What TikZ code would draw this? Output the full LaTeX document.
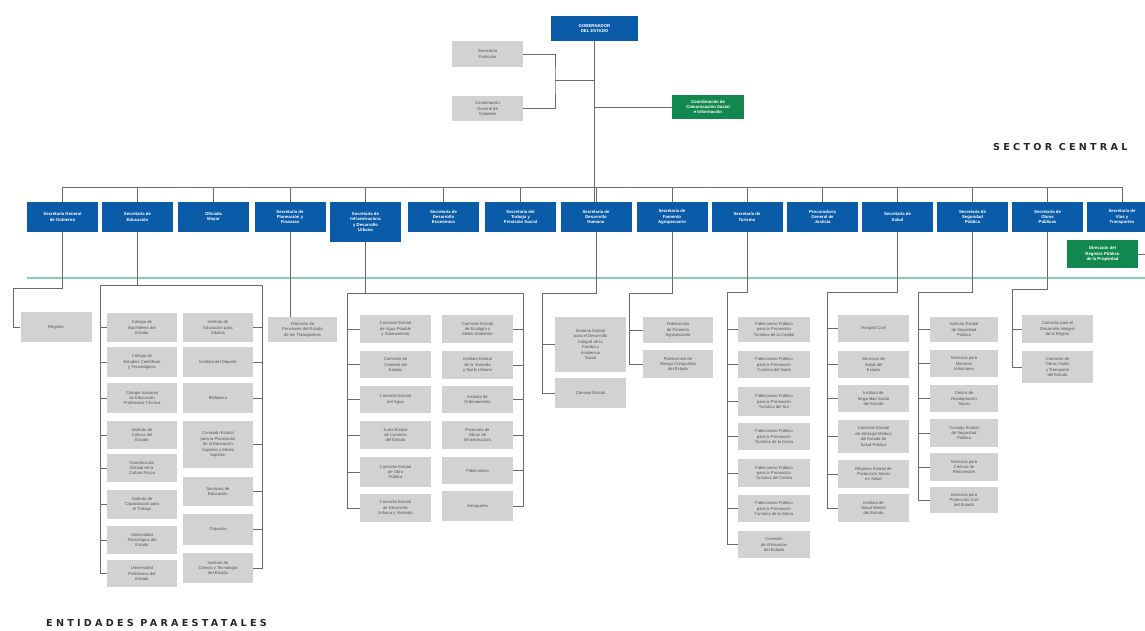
\documentclass[tikz,border=0pt]{standalone}
\usepackage{fontspec}
\setmainfont{Liberation Sans}
\newfontfamily\titlefont[LetterSpace=34]{DejaVu Sans}
\definecolor{bblue}{HTML}{0B5CA8}
\definecolor{ggreen}{HTML}{12884F}
\definecolor{gfill}{HTML}{D2D2D2}
\definecolor{gtext}{HTML}{555555}
\definecolor{lgray}{HTML}{6A6A6A}
\definecolor{teal}{HTML}{86CDBB}
\tikzset{
  box/.style={inner sep=0pt, align=center, font=\fontsize{4.2}{5.4}\selectfont},
  bluebox/.style={box, fill=bblue, text=white, font=\bfseries\fontsize{4.3}{5.4}\selectfont, minimum width=71pt, minimum height=30pt},
  greenbox/.style={box, fill=ggreen, text=white, font=\bfseries\fontsize{4.3}{5.4}\selectfont},
  greybox/.style={box, fill=gfill, text=gtext},
  sz/.style 2 args={minimum width=#1, minimum height=#2},
  ln/.style={draw=lgray, line width=0.7pt},
  title/.style={font=\titlefont\bfseries\fontsize{9.6}{11}\selectfont, text=black!85, inner sep=0pt}
}
\begin{document}
\begin{tikzpicture}[x=1pt,y=-1pt]
\useasboundingbox (0,0) rectangle (1145,631);
\fill[white] (0,0) rectangle (1145,631);

% ---------- top ----------
\node[bluebox, sz={87pt}{25pt}] (gov) at (594.5,28.5) {GOBERNADOR\\DEL ESTADO};
\node[greybox, sz={71pt}{26pt}] (sp) at (487.5,54) {Secretaría\\Particular};
\node[greybox, sz={71pt}{25pt}] (cg) at (487.5,108.5) {Coordinación\\General de\\Gabinete};
\node[greenbox, sz={72pt}{24pt}] (gt) at (708,107) {Coordinación de\\Comunicación Social\\e Información};
\coordinate (kg) at (555,80);
\draw[ln] (sp.east) -| (kg) |- (cg.east);
\draw[ln] (kg) -- (kg -| gov.south);
\draw[ln] (gt.west) -- (gt.west -| gov.south);

\node[title, anchor=west] (sc) at (993,147) {SECTOR CENTRAL};
\node[title, anchor=west] (ep) at (46,623) {ENTIDADES PARAESTATALES};

% ---------- teal line ----------
\coordinate (t1) at (27,278);
\coordinate (t2) at (1145,278);
\draw[teal, line width=2.2pt] (t1) -- (t2);

% ---------- blue row ----------
\node[bluebox] (b1) at (62.5,217) {Secretaría General\\de Gobierno};
\node[bluebox] (b2) at (137.5,217) {Secretaría de\\Educación};
\node[bluebox] (b3) at (213.5,217) {Oficialía\\Mayor};
\node[bluebox] (b4) at (290,217) {Secretaría de\\Planeación y\\Finanzas};
\node[bluebox, sz={71pt}{40pt}] (b5) at (365.5,222) {Secretaría de\\Infraestructura\\y Desarrollo\\Urbano};
\node[bluebox] (b6) at (443.5,217) {Secretaría de\\Desarrollo\\Económico};
\node[bluebox] (b7) at (520.5,217) {Secretaría del\\Trabajo y\\Previsión Social};
\node[bluebox] (b8) at (596,217) {Secretaría de\\Desarrollo\\Humano};
\node[bluebox] (b9) at (672,217) {Secretaría de\\Fomento\\Agropecuario};
\node[bluebox] (b10) at (747,217) {Secretaría de\\Turismo};
\node[bluebox] (b11) at (822.5,217) {Procuraduría\\General de\\Justicia};
\node[bluebox] (b12) at (897.5,217) {Secretaría de\\Salud};
\node[bluebox] (b13) at (972.5,217) {Secretaría de\\Seguridad\\Pública};
\node[bluebox] (b14) at (1047.5,217) {Secretaría de\\Obras\\Públicas};
\node[bluebox] (b15) at (1122,217) {Secretaría de\\Vías y\\Transportes};
\node[greenbox, sz={71pt}{28pt}] (g15) at (1102.5,254) {Dirección del\\Registro Público\\de la Propiedad};
\coordinate (g15e) at (1145,254);
\draw[ln] (g15.east) -- (g15e);

% bus
\coordinate (bus) at (0,187);
\draw[ln] (b1.north |- bus) -- (b15.north |- bus);
\draw[ln] (gov.south) -- (gov.south |- b8.north);
\foreach \i in {1,...,15} \draw[ln] (b\i.north) -- (b\i.north |- bus);

% ---------- box 1 ----------
\node[greybox, sz={71pt}{30pt}] (e1) at (56,327) {Registro};
\coordinate (k1a) at (62.5,288);
\coordinate (k1b) at (13,288);
\draw[ln] (b1.south) -- (k1a) -- (k1b) |- (e1.west);

% ---------- box 2 ----------
\node[greybox, sz={70pt}{29pt}] (e2l1) at (142,327.5) {Colegio de\\Bachilleres del\\Estado};
\node[greybox, sz={70pt}{30pt}] (e2l2) at (142,362) {Colegio de\\Estudios Científicos\\y Tecnológicos};
\node[greybox, sz={70pt}{30pt}] (e2l3) at (142,398) {Colegio Nacional\\de Educación\\Profesional Técnica};
\node[greybox, sz={70pt}{28pt}] (e2l4) at (142,435) {Instituto de\\Cultura del\\Estado};
\node[greybox, sz={70pt}{28pt}] (e2l5) at (142,468) {Coordinación\\Estatal de la\\Cultura Física};
\node[greybox, sz={70pt}{29pt}] (e2l6) at (142,504.5) {Instituto de\\Capacitación para\\el Trabajo};
\node[greybox, sz={70pt}{28pt}] (e2l7) at (142,540) {Universidad\\Tecnológica del\\Estado};
\node[greybox, sz={70pt}{27pt}] (e2l8) at (142,573.5) {Universidad\\Politécnica del\\Estado};
\node[greybox, sz={70pt}{29pt}] (e2r1) at (218,327.5) {Instituto de\\Educación para\\Adultos};
\node[greybox, sz={70pt}{30pt}] (e2r2) at (218,362) {Instituto del Deporte};
\node[greybox, sz={70pt}{30pt}] (e2r3) at (218,398) {Biblioteca};
\node[greybox, sz={70pt}{47pt}] (e2r4) at (218,444.5) {Comisión Estatal\\para la Planeación\\de la Educación\\Superior y Media\\Superior};
\node[greybox, sz={70pt}{29pt}] (e2r5) at (218,491.5) {Servicios de\\Educación};
\node[greybox, sz={70pt}{31pt}] (e2r6) at (218,529.5) {Orquesta};
\node[greybox, sz={70pt}{30pt}] (e2r7) at (218,568) {Instituto de\\Ciencia y Tecnología\\del Estado};
\coordinate (k2l) at (100,285);
\coordinate (k2r) at (262,285);
\draw[ln] (b2.south) -- (b2.south |- k2l);
\draw[ln] (e2l8.west) -| (k2l) -- (k2r) |- (e2r7.east);
\foreach \i in {1,...,7} \draw[ln] (e2l\i.west) -- (e2l\i.west -| k2l);
\foreach \i in {1,...,6} \draw[ln] (e2r\i.east) -- (e2r\i.east -| k2r);

% ---------- box 4 ----------
\node[greybox, sz={69pt}{25pt}] (e4) at (302.5,329.5) {Dirección de\\Pensiones del Estado\\de los Trabajadores};
\draw[ln] (b4.south) -- (b4.south |- e4.north);

% ---------- box 5 ----------
\node[greybox, sz={71pt}{28pt}] (e5l1) at (395.5,329) {Comisión Estatal\\de Agua Potable\\y Saneamiento};
\node[greybox, sz={71pt}{27pt}] (e5l2) at (395.5,364.5) {Comisión de\\Vivienda del\\Estado};
\node[greybox, sz={71pt}{27pt}] (e5l3) at (395.5,399.5) {Comisión Estatal\\del Agua};
\node[greybox, sz={71pt}{28pt}] (e5l4) at (395.5,435) {Junta Estatal\\de Caminos\\del Estado};
\node[greybox, sz={71pt}{30pt}] (e5l5) at (395.5,472) {Comisión Estatal\\de Obra\\Pública};
\node[greybox, sz={71pt}{28pt}] (e5l6) at (395.5,508) {Comisión Estatal\\de Desarrollo\\Urbano y Vivienda};
\node[greybox, sz={71pt}{28pt}] (e5r1) at (477.5,329) {Comisión Estatal\\de Ecología y\\Medio Ambiente};
\node[greybox, sz={71pt}{28pt}] (e5r2) at (477.5,365) {Instituto Estatal\\de la Vivienda\\y Suelo Urbano};
\node[greybox, sz={71pt}{27pt}] (e5r3) at (477.5,399.5) {Instituto de\\Ordenamiento};
\node[greybox, sz={71pt}{28pt}] (e5r4) at (477.5,435) {Patronato de\\Obras de\\Infraestructura};
\node[greybox, sz={71pt}{27pt}] (e5r5) at (477.5,470.5) {Fideicomiso};
\node[greybox, sz={71pt}{30pt}] (e5r6) at (477.5,506) {Aeropuerto};
\coordinate (k5l) at (347,293);
\coordinate (k5r) at (523,293);
\draw[ln] (b5.south) -- (b5.south |- k5l);
\draw[ln] (e5l6.west) -| (k5l) -- (k5r) |- (e5r6.east);
\foreach \i in {1,...,5} \draw[ln] (e5l\i.west) -- (e5l\i.west -| k5l);
\foreach \i in {1,...,5} \draw[ln] (e5r\i.east) -- (e5r\i.east -| k5r);

% ---------- box 8 ----------
\node[greybox, sz={71pt}{55pt}] (e8a) at (590.5,344.5) {Sistema Estatal\\para el Desarrollo\\Integral de la\\Familia y\\Asistencia\\Social};
\node[greybox, sz={71pt}{30pt}] (e8b) at (590.5,393) {Consejo Estatal};
\coordinate (k8) at (542,293);
\draw[ln] (b8.south) -- (b8.south |- k8) -- (k8) |- (e8b.west);
\draw[ln] (e8a.west) -- (e8a.west -| k8);

% ---------- box 9 ----------
\node[greybox, sz={70pt}{26pt}] (e9a) at (678,330) {Fideicomiso\\de Fomento\\Agropecuario};
\node[greybox, sz={70pt}{28pt}] (e9b) at (678,364) {Fideicomiso de\\Riesgo Compartido\\del Estado};
\coordinate (k9) at (629,293);
\draw[ln] (b9.south) -- (b9.south |- k9) -- (k9) |- (e9b.west);
\draw[ln] (e9a.west) -- (e9a.west -| k9);

% ---------- box 10 ----------
\node[greybox, sz={72pt}{25pt}] (e10a) at (774,329.5) {Fideicomiso Público\\para la Promoción\\Turística de la Capital};
\node[greybox, sz={72pt}{27pt}] (e10b) at (774,364.5) {Fideicomiso Público\\para la Promoción\\Turística del Norte};
\node[greybox, sz={72pt}{29pt}] (e10c) at (774,401.5) {Fideicomiso Público\\para la Promoción\\Turística del Sur};
\node[greybox, sz={72pt}{27pt}] (e10d) at (774,436.5) {Fideicomiso Público\\para la Promoción\\Turística de la Costa};
\node[greybox, sz={72pt}{28pt}] (e10e) at (774,473) {Fideicomiso Público\\para la Promoción\\Turística del Centro};
\node[greybox, sz={72pt}{27pt}] (e10f) at (774,508.5) {Fideicomiso Público\\para la Promoción\\Turística de la Sierra};
\node[greybox, sz={72pt}{27pt}] (e10g) at (774,544.5) {Comisión\\de Artesanías\\del Estado};
\coordinate (k10) at (727,292);
\draw[ln] (b10.south) -- (b10.south |- k10) -- (k10) |- (e10g.west);
\foreach \n in {a,b,c,d,e,f} \draw[ln] (e10\n.west) -- (e10\n.west -| k10);

% ---------- box 12 ----------
\node[greybox, sz={71pt}{27pt}] (e12a) at (873.5,328.5) {Hospital Civil};
\node[greybox, sz={71pt}{27pt}] (e12b) at (873.5,364.5) {Servicios de\\Salud del\\Estado};
\node[greybox, sz={71pt}{27pt}] (e12c) at (873.5,398.5) {Instituto de\\Seguridad Social\\del Estado};
\node[greybox, sz={71pt}{33pt}] (e12d) at (873.5,436.5) {Comisión Estatal\\de Arbitraje Médico\\del Estado de\\Salud Pública};
\node[greybox, sz={71pt}{28pt}] (e12e) at (873.5,474) {Régimen Estatal de\\Protección Social\\en Salud};
\node[greybox, sz={71pt}{28pt}] (e12f) at (873.5,508) {Instituto de\\Salud Mental\\del Estado};
\coordinate (k12) at (827,292);
\draw[ln] (b12.south) -- (b12.south |- k12) -- (k12) |- (e12f.west);
\foreach \n in {a,b,c,d,e} \draw[ln] (e12\n.west) -- (e12\n.west -| k12);

% ---------- box 13 ----------
\node[greybox, sz={68pt}{25pt}] (e13a) at (964,329.5) {Instituto Estatal\\de Seguridad\\Pública};
\node[greybox, sz={68pt}{27pt}] (e13b) at (964,363.5) {Servicios para\\Menores\\Infractores};
\node[greybox, sz={68pt}{27pt}] (e13c) at (964,398.5) {Centro de\\Readaptación\\Social};
\node[greybox, sz={68pt}{28pt}] (e13d) at (964,433) {Consejo Estatal\\de Seguridad\\Pública};
\node[greybox, sz={68pt}{28pt}] (e13e) at (964,467) {Servicios para\\Centros de\\Reinserción};
\node[greybox, sz={68pt}{26pt}] (e13f) at (964,500) {Servicios para\\Protección Civil\\del Estado};
\coordinate (k13) at (918,292);
\draw[ln] (b13.south) -- (b13.south |- k13) -- (k13) |- (e13f.west);
\foreach \n in {a,b,c,d,e} \draw[ln] (e13\n.west) -- (e13\n.west -| k13);

% ---------- box 14 ----------
\node[greybox, sz={71pt}{28pt}] (e14a) at (1057.5,329) {Comisión para el\\Desarrollo Integral\\de la Región};
\node[greybox, sz={71pt}{32pt}] (e14b) at (1057.5,367) {Comisión de\\Obras Viales\\y Transporte\\del Estado};
\coordinate (k14) at (1012,289);
\draw[ln] (b14.south) -- (b14.south |- k14) -- (k14) |- (e14b.west);
\draw[ln] (e14a.west) -- (e14a.west -| k14);

\end{tikzpicture}
\end{document}
